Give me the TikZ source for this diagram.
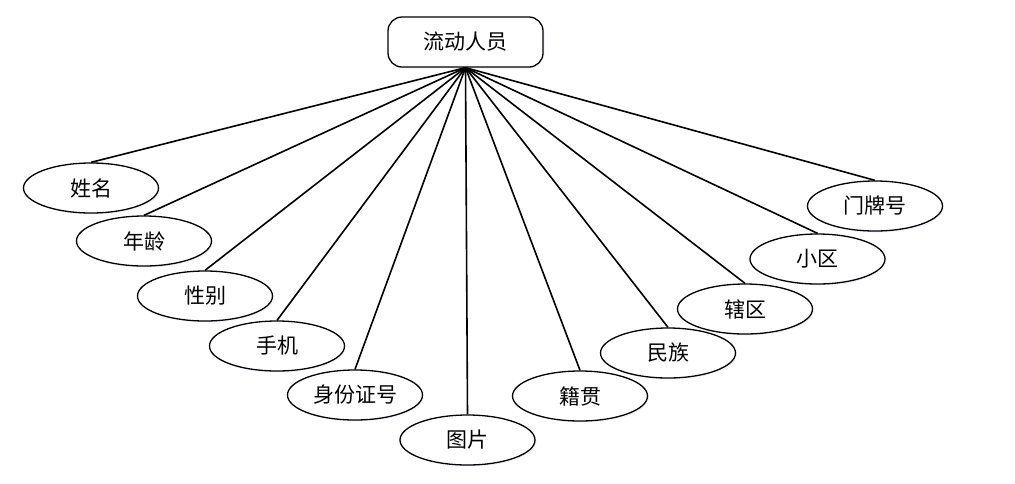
\documentclass[tikz,border=0pt]{standalone}
\usepackage{fontspec}
\setmainfont{Noto Sans CJK SC}
\usetikzlibrary{shapes.geometric,shadows}
\begin{document}
\begin{tikzpicture}[x=1pt,y=-1pt,
  attr/.style={ellipse,draw,line width=1.3pt,minimum width=135pt,minimum height=50pt,inner sep=0pt,fill=white,
    drop shadow={shadow xshift=1.5pt,shadow yshift=-1.5pt,fill=blue!6,opacity=1},
    font=\fontsize{21pt}{21pt}\selectfont},
  ent/.style={rectangle,rounded corners=14pt,draw,line width=1.3pt,minimum width=155pt,minimum height=50pt,inner sep=0pt,fill=white,
    drop shadow={shadow xshift=1.5pt,shadow yshift=-1.5pt,fill=blue!6,opacity=1},
    font=\fontsize{21pt}{21pt}\selectfont},
  conn/.style={line width=1.6pt}]
\useasboundingbox (0,0) rectangle (1015,483);
\node[ent] (top) at (465.5,42) {流动人员};
\node[attr] (a1) at (91,188) {姓名};
\node[attr] (a2) at (144,241) {年龄};
\node[attr] (a3) at (205,296) {性别};
\node[attr] (a4) at (277,346) {手机};
\node[attr] (a5) at (355,395) {身份证号};
\node[attr] (a6) at (467.5,440) {图片};
\node[attr] (a7) at (580,396) {籍贯};
\node[attr] (a8) at (668,353) {民族};
\node[attr] (a9) at (745,309) {辖区};
\node[attr] (a10) at (817.5,259) {小区};
\node[attr] (a11) at (875,206) {门牌号};
\foreach \n in {a1,a2,a3,a4,a5,a6,a7,a8,a9,a10,a11}
  \draw[conn] (top.south) -- (\n.north);
\end{tikzpicture}
\end{document}
